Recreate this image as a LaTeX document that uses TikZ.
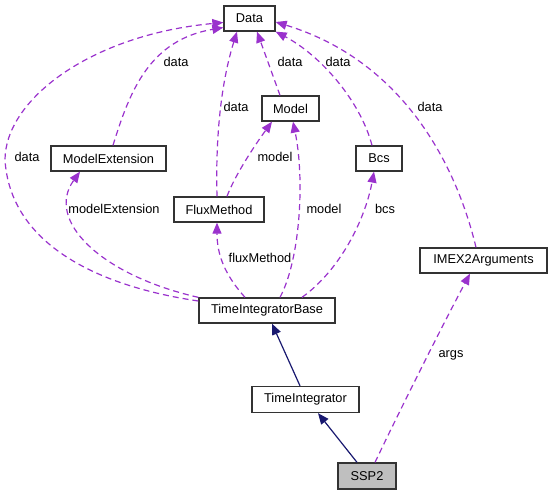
\documentclass[tikz,border=0pt]{standalone}
\usepackage{fontspec}
\setmainfont{Liberation Sans}
\usetikzlibrary{arrows.meta}
\definecolor{edgepurple}{HTML}{9A32CD}
\definecolor{edgenavy}{HTML}{191970}
\definecolor{boxgray}{HTML}{BFBFBF}
\begin{document}
\begin{tikzpicture}[x=1pt,y=-1pt,
  font=\fontsize{12.8}{15}\selectfont,
  cls/.style={draw=black!80, line width=1.3pt, fill=white, inner sep=0pt, minimum height=25pt, anchor=center},
  usage/.style={draw=edgepurple, line width=1.2pt, dash pattern=on 6pt off 4pt, -{Triangle[length=11pt,width=9pt]}},
  inherit/.style={draw=edgenavy, line width=1.2pt, -{Triangle[length=11pt,width=9pt]}},
  lbl/.style={inner sep=0pt, anchor=center}]
\useasboundingbox (0,0) rectangle (551,495);
% nodes
\node[cls, minimum width=51pt] (data) at (249.5,18.5) {Data};
\node[cls, minimum width=57pt] (model) at (290.5,108.5) {Model};
\node[cls, minimum width=115pt] (modelext) at (108.5,158.5) {ModelExtension};
\node[cls, minimum width=90pt] (flux) at (219,209.5) {FluxMethod};
\node[cls, minimum width=46pt] (bcs) at (379,158.5) {Bcs};
\node[cls, minimum width=127pt] (imex) at (483.5,260.5) {IMEX2Arguments};
\node[cls, minimum width=136pt] (tib) at (267,310.5) {TimeIntegratorBase};
\node[cls, minimum width=107pt, minimum height=26pt] (ti) at (305.5,399.5) {TimeIntegrator};
\node[cls, fill=boxgray, minimum width=58pt, minimum height=26pt] (ssp2) at (367,476) {SSP2};
% usage edges
\draw[usage] ([yshift=9.5pt]tib.west) .. controls (90,285) and (10,240) .. (5,160)
   .. controls (5,100) and (90,35) .. ([yshift=-4pt]data.west);
\draw[usage] ([xshift=4.5pt]modelext.north) .. controls (130,90) and (150,40) .. ([yshift=-9pt]data.west);
\draw[usage] ([xshift=-2pt]flux.north) .. controls (215,120) and (225,70) .. ([xshift=-12.5pt]data.south);
\draw[usage] ([xshift=-10.5pt]model.north) -- ([xshift=7.5pt]data.south);
\draw[usage] ([xshift=8pt]flux.north) .. controls (235,175) and (255,145) .. ([xshift=-18.5pt]model.south);
\draw[usage] ([xshift=-7pt]bcs.north) .. controls (360,100) and (320,55) .. (data.south east);
\draw[usage] ([xshift=-7.5pt]imex.north) .. controls (455,160) and (400,60) .. ([yshift=-3.5pt]data.east);
\draw[usage] (tib.north west) .. controls (100,275) and (45,220) .. ([xshift=-28.5pt]modelext.south);
\draw[usage] ([xshift=-22pt]tib.north) .. controls (225,275) and (217,255) .. ([xshift=-2pt]flux.south);
\draw[usage] ([xshift=13pt]tib.north) .. controls (300,260) and (305,180) .. ([xshift=2.5pt]model.south);
\draw[usage] ([xshift=35pt]tib.north) .. controls (340,270) and (365,220) .. ([xshift=-5pt]bcs.south);
\draw[usage] ([xshift=8pt]ssp2.north) .. controls (400,410) and (440,330) .. ([xshift=-13.5pt]imex.south);
% inheritance edges
\draw[inherit] ([xshift=-5.5pt]ti.north) -- ([xshift=5pt]tib.south);
\draw[inherit] ([xshift=-10pt]ssp2.north) -- ([xshift=12.5pt]ti.south);
% labels
\node[lbl] (l1) at (27,157) {data};
\node[lbl] (l2) at (176,62) {data};
\node[lbl] (l3) at (114,209) {modelExtension};
\node[lbl] (l4) at (236,107) {data};
\node[lbl] (l5) at (290,62) {data};
\node[lbl] (l6) at (338,62) {data};
\node[lbl] (l7) at (275,157) {model};
\node[lbl] (l8) at (324,209) {model};
\node[lbl] (l9) at (385,209) {bcs};
\node[lbl] (l10) at (430,107) {data};
\node[lbl] (l11) at (260,258) {fluxMethod};
\node[lbl] (l12) at (451,355) {args};
\end{tikzpicture}
\end{document}
